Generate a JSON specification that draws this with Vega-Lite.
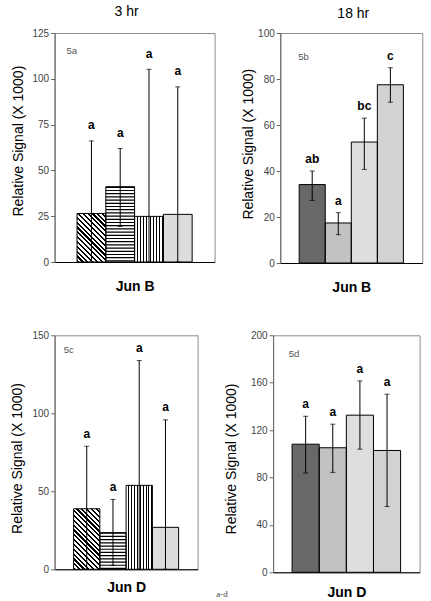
{
"$schema":"https://vega.github.io/schema/vega-lite/v6.json",
"autosize":"pad",
"padding":{"left":9.6,"top":4,"right":0,"bottom":0},
"background":"#ffffff",
"datasets":{
 "a":[{"t":1,"mean":26.5,"lo":0,"hi":66.1,"sig":"a"},{"t":2,"mean":41.1,"lo":19.4,"hi":62.0,"sig":"a"},{"t":3,"mean":24.9,"lo":0,"hi":105.2,"sig":"a"},{"t":4,"mean":26.0,"lo":0,"hi":95.6,"sig":"a"}],
 "b":[{"t":1,"mean":34.1,"lo":27.2,"hi":40.0,"sig":"ab"},{"t":2,"mean":17.4,"lo":12.3,"hi":21.9,"sig":"a"},{"t":3,"mean":52.6,"lo":40.7,"hi":63.0,"sig":"bc"},{"t":4,"mean":77.5,"lo":69.9,"hi":84.9,"sig":"c"}],
 "c":[{"t":1,"mean":38.8,"lo":0,"hi":78.9,"sig":"a"},{"t":2,"mean":23.5,"lo":2.5,"hi":44.8,"sig":"a"},{"t":3,"mean":53.8,"lo":0,"hi":133.8,"sig":"a"},{"t":4,"mean":26.9,"lo":0,"hi":95.8,"sig":"a"}],
 "d":[{"t":1,"mean":108.1,"lo":83.7,"hi":131.7,"sig":"a"},{"t":2,"mean":105.1,"lo":84.3,"hi":125.0,"sig":"a"},{"t":3,"mean":132.6,"lo":103.9,"hi":161.5,"sig":"a"},{"t":4,"mean":102.8,"lo":55.6,"hi":150.3,"sig":"a"}]
},
"title":{"text":"a-d","orient":"bottom","anchor":"middle","font":"Liberation Serif","fontSize":9,"fontWeight":"normal","color":"#444","dx":5.7,"dy":-10.2,"offset":0},
"spacing":34.3,
"vconcat":[
{"spacing":24.7,"hconcat":[
{
 "width":160,"height":229,
 "title":{"text":"3 hr","offset":8.6,"dx":-8},
 "data":{"name":"a"},
 "encoding":{"x":{"field":"t","type":"ordinal","title":"Jun B","scale":{"domain":[1,2,3,4],"paddingInner":0,"paddingOuter":0.78},"axis":{"titlePadding":17.5}}},
 "layer":[
  {"transform":[{"filter":"datum.t==1"}],"mark":{"type":"bar","fill":{"gradient":"linear","x1":0,"y1":1,"x2":0.698,"y2":-0.179,"stops":[
{"offset":0,"color":"#000"},{"offset":0.0281,"color":"#000"},{"offset":0.0281,"color":"#fff"},{"offset":0.0625,"color":"#fff"},
{"offset":0.0625,"color":"#000"},{"offset":0.0906,"color":"#000"},{"offset":0.0906,"color":"#fff"},{"offset":0.125,"color":"#fff"},
{"offset":0.125,"color":"#000"},{"offset":0.1531,"color":"#000"},{"offset":0.1531,"color":"#fff"},{"offset":0.1875,"color":"#fff"},
{"offset":0.1875,"color":"#000"},{"offset":0.2156,"color":"#000"},{"offset":0.2156,"color":"#fff"},{"offset":0.25,"color":"#fff"},
{"offset":0.25,"color":"#000"},{"offset":0.2781,"color":"#000"},{"offset":0.2781,"color":"#fff"},{"offset":0.3125,"color":"#fff"},
{"offset":0.3125,"color":"#000"},{"offset":0.3406,"color":"#000"},{"offset":0.3406,"color":"#fff"},{"offset":0.375,"color":"#fff"},
{"offset":0.375,"color":"#000"},{"offset":0.4031,"color":"#000"},{"offset":0.4031,"color":"#fff"},{"offset":0.4375,"color":"#fff"},
{"offset":0.4375,"color":"#000"},{"offset":0.4656,"color":"#000"},{"offset":0.4656,"color":"#fff"},{"offset":0.5,"color":"#fff"},
{"offset":0.5,"color":"#000"},{"offset":0.5281,"color":"#000"},{"offset":0.5281,"color":"#fff"},{"offset":0.5625,"color":"#fff"},
{"offset":0.5625,"color":"#000"},{"offset":0.5906,"color":"#000"},{"offset":0.5906,"color":"#fff"},{"offset":0.625,"color":"#fff"},
{"offset":0.625,"color":"#000"},{"offset":0.6531,"color":"#000"},{"offset":0.6531,"color":"#fff"},{"offset":0.6875,"color":"#fff"},
{"offset":0.6875,"color":"#000"},{"offset":0.7156,"color":"#000"},{"offset":0.7156,"color":"#fff"},{"offset":0.75,"color":"#fff"},
{"offset":0.75,"color":"#000"},{"offset":0.7781,"color":"#000"},{"offset":0.7781,"color":"#fff"},{"offset":0.8125,"color":"#fff"},
{"offset":0.8125,"color":"#000"},{"offset":0.8406,"color":"#000"},{"offset":0.8406,"color":"#fff"},{"offset":0.875,"color":"#fff"},
{"offset":0.875,"color":"#000"},{"offset":0.9031,"color":"#000"},{"offset":0.9031,"color":"#fff"},{"offset":0.9375,"color":"#fff"},
{"offset":0.9375,"color":"#000"},{"offset":0.9656,"color":"#000"},{"offset":0.9656,"color":"#fff"},{"offset":1,"color":"#fff"}]}},
   "encoding":{"y":{"field":"mean","type":"quantitative","title":"Relative Signal (X 1000)","scale":{"domain":[0,125],"nice":false},"axis":{"values":[0,25,50,75,100,125],"titleX":-35.7,"titleY":107.6}}}},
  {"transform":[{"filter":"datum.t==2"}],"mark":{"type":"bar","fill":"#ffffff"},"encoding":{"y":{"field":"mean","type":"quantitative","title":"Relative Signal (X 1000)","scale":{"domain":[0,125],"nice":false}}}},
  {"transform":[{"filter":"datum.t==2"}],"mark":{"type":"rule","strokeWidth":28.8,"strokeDash":[1.2,2],"strokeCap":"butt","color":"#000"},"encoding":{"y":{"field":"mean","type":"quantitative","title":"Relative Signal (X 1000)","scale":{"domain":[0,125],"nice":false}},"y2":{"datum":0}}},
  {"transform":[{"filter":"datum.t==3"}],"mark":{"type":"bar","fill":{"gradient":"linear","x1":0,"y1":0,"x2":1,"y2":0,"stops":[
{"offset":0,"color":"#fff"},{"offset":0.0741,"color":"#fff"},{"offset":0.0741,"color":"#000"},{"offset":0.1111,"color":"#000"},
{"offset":0.1111,"color":"#fff"},{"offset":0.1852,"color":"#fff"},{"offset":0.1852,"color":"#000"},{"offset":0.2222,"color":"#000"},
{"offset":0.2222,"color":"#fff"},{"offset":0.2963,"color":"#fff"},{"offset":0.2963,"color":"#000"},{"offset":0.3333,"color":"#000"},
{"offset":0.3333,"color":"#fff"},{"offset":0.4074,"color":"#fff"},{"offset":0.4074,"color":"#000"},{"offset":0.4444,"color":"#000"},
{"offset":0.4444,"color":"#fff"},{"offset":0.5185,"color":"#fff"},{"offset":0.5185,"color":"#000"},{"offset":0.5556,"color":"#000"},
{"offset":0.5556,"color":"#fff"},{"offset":0.6296,"color":"#fff"},{"offset":0.6296,"color":"#000"},{"offset":0.6667,"color":"#000"},
{"offset":0.6667,"color":"#fff"},{"offset":0.7407,"color":"#fff"},{"offset":0.7407,"color":"#000"},{"offset":0.7778,"color":"#000"},
{"offset":0.7778,"color":"#fff"},{"offset":0.8519,"color":"#fff"},{"offset":0.8519,"color":"#000"},{"offset":0.8889,"color":"#000"},
{"offset":0.8889,"color":"#fff"},{"offset":0.963,"color":"#fff"},{"offset":0.963,"color":"#000"},{"offset":1,"color":"#000"}]}},
   "encoding":{"y":{"field":"mean","type":"quantitative","title":"Relative Signal (X 1000)","scale":{"domain":[0,125],"nice":false}}}},
  {"transform":[{"filter":"datum.t==4"}],"mark":{"type":"bar","fill":"#dcdcdc"},"encoding":{"y":{"field":"mean","type":"quantitative","title":"Relative Signal (X 1000)","scale":{"domain":[0,125],"nice":false}}}},
  {"mark":{"type":"bar","fillOpacity":0,"stroke":"#000","strokeWidth":1},"encoding":{"y":{"field":"mean","type":"quantitative","title":"Relative Signal (X 1000)","scale":{"domain":[0,125],"nice":false}}}},
  {"mark":{"type":"rule","color":"#000","strokeWidth":1},"encoding":{"y":{"field":"lo","type":"quantitative","title":"Relative Signal (X 1000)","scale":{"domain":[0,125],"nice":false}},"y2":{"field":"hi"}}},
  {"mark":{"type":"tick","color":"#000","size":5,"thickness":1},"encoding":{"y":{"field":"hi","type":"quantitative","title":"Relative Signal (X 1000)","scale":{"domain":[0,125],"nice":false}}}},
  {"mark":{"type":"tick","color":"#000","size":5,"thickness":1},"encoding":{"y":{"field":"lo","type":"quantitative","title":"Relative Signal (X 1000)","scale":{"domain":[0,125],"nice":false}}}},
  {"mark":{"type":"text","fontWeight":"bold","fontSize":12,"dy":-11.5,"baseline":"alphabetic","color":"#000"},"encoding":{"y":{"field":"hi","type":"quantitative","title":"Relative Signal (X 1000)","scale":{"domain":[0,125],"nice":false}},"text":{"field":"sig"}}},
  {"data":{"values":[{"lab":"5a"}]},"mark":{"type":"text","align":"left","baseline":"middle","fontSize":9.5,"color":"#555","dx":-25},"encoding":{"x":{"datum":1,"type":"ordinal","title":"Jun B","scale":{"domain":[1,2,3,4],"paddingInner":0,"paddingOuter":0.78}},"y":{"datum":115,"type":"quantitative","title":"Relative Signal (X 1000)","scale":{"domain":[0,125],"nice":false}},"text":{"field":"lab"}}}
 ]
},
{
 "width":142,"height":230,
 "title":{"text":"18 hr","offset":7.2,"dx":2},
 "data":{"name":"b"},
 "encoding":{"x":{"field":"t","type":"ordinal","title":"Jun B","scale":{"domain":[1,2,3,4],"paddingInner":0,"paddingOuter":0.725},"axis":{"titlePadding":17.5}}},
 "layer":[
  {"transform":[{"filter":"datum.t==1"}],"mark":{"type":"bar","fill":"#686868"},"encoding":{"y":{"field":"mean","type":"quantitative","title":"Relative Signal (X 1000)","scale":{"domain":[0,100],"nice":false},"axis":{"values":[0,20,40,60,80,100],"titleX":-31.6,"titleY":110.7}}}},
  {"transform":[{"filter":"datum.t==2"}],"mark":{"type":"bar","fill":"#c2c2c2"},"encoding":{"y":{"field":"mean","type":"quantitative","title":"Relative Signal (X 1000)","scale":{"domain":[0,100],"nice":false}}}},
  {"transform":[{"filter":"datum.t==3"}],"mark":{"type":"bar","fill":"#dedede"},"encoding":{"y":{"field":"mean","type":"quantitative","title":"Relative Signal (X 1000)","scale":{"domain":[0,100],"nice":false}}}},
  {"transform":[{"filter":"datum.t==4"}],"mark":{"type":"bar","fill":"#d2d2d2"},"encoding":{"y":{"field":"mean","type":"quantitative","title":"Relative Signal (X 1000)","scale":{"domain":[0,100],"nice":false}}}},
  {"mark":{"type":"bar","fillOpacity":0,"stroke":"#000","strokeWidth":1},"encoding":{"y":{"field":"mean","type":"quantitative","title":"Relative Signal (X 1000)","scale":{"domain":[0,100],"nice":false}}}},
  {"mark":{"type":"rule","color":"#000","strokeWidth":1},"encoding":{"y":{"field":"lo","type":"quantitative","title":"Relative Signal (X 1000)","scale":{"domain":[0,100],"nice":false}},"y2":{"field":"hi"}}},
  {"mark":{"type":"tick","color":"#000","size":5,"thickness":1},"encoding":{"y":{"field":"hi","type":"quantitative","title":"Relative Signal (X 1000)","scale":{"domain":[0,100],"nice":false}}}},
  {"mark":{"type":"tick","color":"#000","size":5,"thickness":1},"encoding":{"y":{"field":"lo","type":"quantitative","title":"Relative Signal (X 1000)","scale":{"domain":[0,100],"nice":false}}}},
  {"mark":{"type":"text","fontWeight":"bold","fontSize":12,"dy":-8,"baseline":"alphabetic","color":"#000"},"encoding":{"y":{"field":"hi","type":"quantitative","title":"Relative Signal (X 1000)","scale":{"domain":[0,100],"nice":false}},"text":{"field":"sig"}}},
  {"data":{"values":[{"lab":"5b"}]},"mark":{"type":"text","align":"left","baseline":"middle","fontSize":9.5,"color":"#555","dx":-14},"encoding":{"x":{"datum":1,"type":"ordinal","title":"Jun B","scale":{"domain":[1,2,3,4],"paddingInner":0,"paddingOuter":0.725}},"y":{"datum":89.6,"type":"quantitative","title":"Relative Signal (X 1000)","scale":{"domain":[0,100],"nice":false}},"text":{"field":"lab"}}}
 ]
}
]},
{"spacing":24.5,"hconcat":[
{
 "width":143,"height":234,
 "data":{"name":"c"},
 "encoding":{"x":{"field":"t","type":"ordinal","title":"Jun D","scale":{"domain":[1,2,3,4],"paddingInner":0,"paddingOuter":0.724},"axis":{"titlePadding":11.7}}},
 "layer":[
  {"transform":[{"filter":"datum.t==1"}],"mark":{"type":"bar","fill":{"gradient":"linear","x1":0,"y1":1,"x2":0.5237,"y2":-0.207,"stops":[
{"offset":0,"color":"#000"},{"offset":0.025,"color":"#000"},{"offset":0.025,"color":"#fff"},{"offset":0.0556,"color":"#fff"},
{"offset":0.0556,"color":"#000"},{"offset":0.0806,"color":"#000"},{"offset":0.0806,"color":"#fff"},{"offset":0.1111,"color":"#fff"},
{"offset":0.1111,"color":"#000"},{"offset":0.1361,"color":"#000"},{"offset":0.1361,"color":"#fff"},{"offset":0.1667,"color":"#fff"},
{"offset":0.1667,"color":"#000"},{"offset":0.1917,"color":"#000"},{"offset":0.1917,"color":"#fff"},{"offset":0.2222,"color":"#fff"},
{"offset":0.2222,"color":"#000"},{"offset":0.2472,"color":"#000"},{"offset":0.2472,"color":"#fff"},{"offset":0.2778,"color":"#fff"},
{"offset":0.2778,"color":"#000"},{"offset":0.3028,"color":"#000"},{"offset":0.3028,"color":"#fff"},{"offset":0.3333,"color":"#fff"},
{"offset":0.3333,"color":"#000"},{"offset":0.3583,"color":"#000"},{"offset":0.3583,"color":"#fff"},{"offset":0.3889,"color":"#fff"},
{"offset":0.3889,"color":"#000"},{"offset":0.4139,"color":"#000"},{"offset":0.4139,"color":"#fff"},{"offset":0.4444,"color":"#fff"},
{"offset":0.4444,"color":"#000"},{"offset":0.4694,"color":"#000"},{"offset":0.4694,"color":"#fff"},{"offset":0.5,"color":"#fff"},
{"offset":0.5,"color":"#000"},{"offset":0.525,"color":"#000"},{"offset":0.525,"color":"#fff"},{"offset":0.5556,"color":"#fff"},
{"offset":0.5556,"color":"#000"},{"offset":0.5806,"color":"#000"},{"offset":0.5806,"color":"#fff"},{"offset":0.6111,"color":"#fff"},
{"offset":0.6111,"color":"#000"},{"offset":0.6361,"color":"#000"},{"offset":0.6361,"color":"#fff"},{"offset":0.6667,"color":"#fff"},
{"offset":0.6667,"color":"#000"},{"offset":0.6917,"color":"#000"},{"offset":0.6917,"color":"#fff"},{"offset":0.7222,"color":"#fff"},
{"offset":0.7222,"color":"#000"},{"offset":0.7472,"color":"#000"},{"offset":0.7472,"color":"#fff"},{"offset":0.7778,"color":"#fff"},
{"offset":0.7778,"color":"#000"},{"offset":0.8028,"color":"#000"},{"offset":0.8028,"color":"#fff"},{"offset":0.8333,"color":"#fff"},
{"offset":0.8333,"color":"#000"},{"offset":0.8583,"color":"#000"},{"offset":0.8583,"color":"#fff"},{"offset":0.8889,"color":"#fff"},
{"offset":0.8889,"color":"#000"},{"offset":0.9139,"color":"#000"},{"offset":0.9139,"color":"#fff"},{"offset":0.9444,"color":"#fff"},
{"offset":0.9444,"color":"#000"},{"offset":0.9694,"color":"#000"},{"offset":0.9694,"color":"#fff"},{"offset":1,"color":"#fff"}]}},
   "encoding":{"y":{"field":"mean","type":"quantitative","title":"Relative Signal (X 1000)","scale":{"domain":[0,150],"nice":false},"axis":{"values":[0,50,100,150],"titleX":-37.1,"titleY":122.7}}}},
  {"transform":[{"filter":"datum.t==2"}],"mark":{"type":"bar","fill":"#ffffff"},"encoding":{"y":{"field":"mean","type":"quantitative","title":"Relative Signal (X 1000)","scale":{"domain":[0,150],"nice":false}}}},
  {"transform":[{"filter":"datum.t==2"}],"mark":{"type":"rule","strokeWidth":26.25,"strokeDash":[1.2,2],"strokeCap":"butt","color":"#000"},"encoding":{"y":{"field":"mean","type":"quantitative","title":"Relative Signal (X 1000)","scale":{"domain":[0,150],"nice":false}},"y2":{"datum":0}}},
  {"transform":[{"filter":"datum.t==3"}],"mark":{"type":"bar","fill":{"gradient":"linear","x1":0,"y1":0,"x2":1,"y2":0,"stops":[
{"offset":0,"color":"#fff"},{"offset":0.0741,"color":"#fff"},{"offset":0.0741,"color":"#000"},{"offset":0.1111,"color":"#000"},
{"offset":0.1111,"color":"#fff"},{"offset":0.1852,"color":"#fff"},{"offset":0.1852,"color":"#000"},{"offset":0.2222,"color":"#000"},
{"offset":0.2222,"color":"#fff"},{"offset":0.2963,"color":"#fff"},{"offset":0.2963,"color":"#000"},{"offset":0.3333,"color":"#000"},
{"offset":0.3333,"color":"#fff"},{"offset":0.4074,"color":"#fff"},{"offset":0.4074,"color":"#000"},{"offset":0.4444,"color":"#000"},
{"offset":0.4444,"color":"#fff"},{"offset":0.5185,"color":"#fff"},{"offset":0.5185,"color":"#000"},{"offset":0.5556,"color":"#000"},
{"offset":0.5556,"color":"#fff"},{"offset":0.6296,"color":"#fff"},{"offset":0.6296,"color":"#000"},{"offset":0.6667,"color":"#000"},
{"offset":0.6667,"color":"#fff"},{"offset":0.7407,"color":"#fff"},{"offset":0.7407,"color":"#000"},{"offset":0.7778,"color":"#000"},
{"offset":0.7778,"color":"#fff"},{"offset":0.8519,"color":"#fff"},{"offset":0.8519,"color":"#000"},{"offset":0.8889,"color":"#000"},
{"offset":0.8889,"color":"#fff"},{"offset":0.963,"color":"#fff"},{"offset":0.963,"color":"#000"},{"offset":1,"color":"#000"}]}},
   "encoding":{"y":{"field":"mean","type":"quantitative","title":"Relative Signal (X 1000)","scale":{"domain":[0,150],"nice":false}}}},
  {"transform":[{"filter":"datum.t==4"}],"mark":{"type":"bar","fill":"#dcdcdc"},"encoding":{"y":{"field":"mean","type":"quantitative","title":"Relative Signal (X 1000)","scale":{"domain":[0,150],"nice":false}}}},
  {"mark":{"type":"bar","fillOpacity":0,"stroke":"#000","strokeWidth":1},"encoding":{"y":{"field":"mean","type":"quantitative","title":"Relative Signal (X 1000)","scale":{"domain":[0,150],"nice":false}}}},
  {"mark":{"type":"rule","color":"#000","strokeWidth":1},"encoding":{"y":{"field":"lo","type":"quantitative","title":"Relative Signal (X 1000)","scale":{"domain":[0,150],"nice":false}},"y2":{"field":"hi"}}},
  {"mark":{"type":"tick","color":"#000","size":5,"thickness":1},"encoding":{"y":{"field":"hi","type":"quantitative","title":"Relative Signal (X 1000)","scale":{"domain":[0,150],"nice":false}}}},
  {"mark":{"type":"tick","color":"#000","size":5,"thickness":1},"encoding":{"y":{"field":"lo","type":"quantitative","title":"Relative Signal (X 1000)","scale":{"domain":[0,150],"nice":false}}}},
  {"mark":{"type":"text","fontWeight":"bold","fontSize":12,"dy":-8.5,"baseline":"alphabetic","color":"#000"},"encoding":{"y":{"field":"hi","type":"quantitative","title":"Relative Signal (X 1000)","scale":{"domain":[0,150],"nice":false}},"text":{"field":"sig"}}},
  {"data":{"values":[{"lab":"5c"}]},"mark":{"type":"text","align":"left","baseline":"middle","fontSize":9.5,"color":"#555","dx":-23},"encoding":{"x":{"datum":1,"type":"ordinal","title":"Jun D","scale":{"domain":[1,2,3,4],"paddingInner":0,"paddingOuter":0.724}},"y":{"datum":140.8,"type":"quantitative","title":"Relative Signal (X 1000)","scale":{"domain":[0,150],"nice":false}},"text":{"field":"lab"}}}
 ]
},
{
 "width":146.5,"height":237,
 "data":{"name":"d"},
 "encoding":{"x":{"field":"t","type":"ordinal","title":"Jun D","scale":{"domain":[1,2,3,4],"paddingInner":0,"paddingOuter":0.70},"axis":{"titlePadding":13.7}}},
 "layer":[
  {"transform":[{"filter":"datum.t==1"}],"mark":{"type":"bar","fill":"#686868"},"encoding":{"y":{"field":"mean","type":"quantitative","title":"Relative Signal (X 1000)","scale":{"domain":[0,200],"nice":false},"axis":{"values":[0,40,80,120,160,200],"titleX":-41.8,"titleY":123.2}}}},
  {"transform":[{"filter":"datum.t==2"}],"mark":{"type":"bar","fill":"#c2c2c2"},"encoding":{"y":{"field":"mean","type":"quantitative","title":"Relative Signal (X 1000)","scale":{"domain":[0,200],"nice":false}}}},
  {"transform":[{"filter":"datum.t==3"}],"mark":{"type":"bar","fill":"#dedede"},"encoding":{"y":{"field":"mean","type":"quantitative","title":"Relative Signal (X 1000)","scale":{"domain":[0,200],"nice":false}}}},
  {"transform":[{"filter":"datum.t==4"}],"mark":{"type":"bar","fill":"#d2d2d2"},"encoding":{"y":{"field":"mean","type":"quantitative","title":"Relative Signal (X 1000)","scale":{"domain":[0,200],"nice":false}}}},
  {"mark":{"type":"bar","fillOpacity":0,"stroke":"#000","strokeWidth":1},"encoding":{"y":{"field":"mean","type":"quantitative","title":"Relative Signal (X 1000)","scale":{"domain":[0,200],"nice":false}}}},
  {"mark":{"type":"rule","color":"#000","strokeWidth":1},"encoding":{"y":{"field":"lo","type":"quantitative","title":"Relative Signal (X 1000)","scale":{"domain":[0,200],"nice":false}},"y2":{"field":"hi"}}},
  {"mark":{"type":"tick","color":"#000","size":5,"thickness":1},"encoding":{"y":{"field":"hi","type":"quantitative","title":"Relative Signal (X 1000)","scale":{"domain":[0,200],"nice":false}}}},
  {"mark":{"type":"tick","color":"#000","size":5,"thickness":1},"encoding":{"y":{"field":"lo","type":"quantitative","title":"Relative Signal (X 1000)","scale":{"domain":[0,200],"nice":false}}}},
  {"mark":{"type":"text","fontWeight":"bold","fontSize":12,"dy":-8,"baseline":"alphabetic","color":"#000"},"encoding":{"y":{"field":"hi","type":"quantitative","title":"Relative Signal (X 1000)","scale":{"domain":[0,200],"nice":false}},"text":{"field":"sig"}}},
  {"data":{"values":[{"lab":"5d"}]},"mark":{"type":"text","align":"left","baseline":"middle","fontSize":9.5,"color":"#555","dx":-17},"encoding":{"x":{"datum":1,"type":"ordinal","title":"Jun D","scale":{"domain":[1,2,3,4],"paddingInner":0,"paddingOuter":0.70}},"y":{"datum":184,"type":"quantitative","title":"Relative Signal (X 1000)","scale":{"domain":[0,200],"nice":false}},"text":{"field":"lab"}}}
 ]
}
]}
],
"config":{
 "font":"Liberation Sans",
 "view":{"stroke":"#8c8c8c"},
 "title":{"fontSize":14,"fontWeight":"normal","color":"#000","font":"Liberation Sans"},
 "axis":{"labelFont":"Liberation Sans","titleFont":"Liberation Sans","grid":false},
 "axisY":{"tickSize":4,"tickColor":"#666","domainColor":"#666","labelFontSize":10,"labelColor":"#444","labelPadding":2,"titleFontSize":14,"titleFontWeight":"normal","titleColor":"#000","titleAngle":-90,"titleBaseline":"middle","titleAlign":"center"},
 "axisX":{"labels":false,"ticks":false,"domainColor":"#000","titleFontSize":14,"titleFontWeight":"bold","titleColor":"#000"}
}
}
